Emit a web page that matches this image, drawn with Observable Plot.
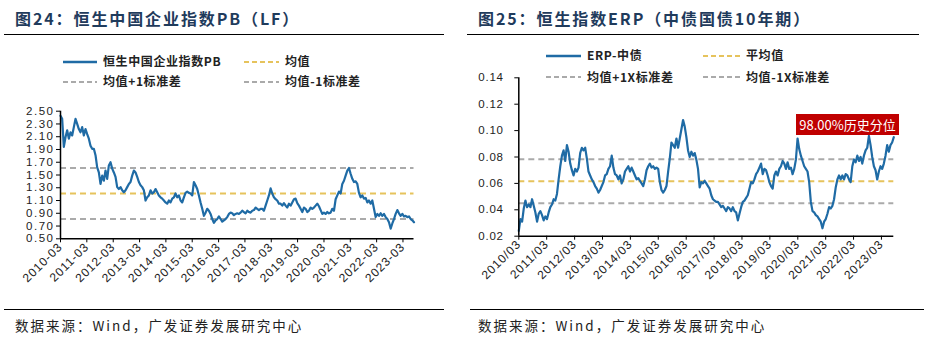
<!DOCTYPE html>
<html><head><meta charset="utf-8">
<script src="https://cdn.jsdelivr.net/npm/d3@7"></script>
<script src="https://cdn.jsdelivr.net/npm/@observablehq/plot@0.6"></script>
<style>
body{margin:0;background:#fff;width:927px;height:347px;position:relative;overflow:hidden;font-family:"Liberation Sans",Arial,sans-serif}
.abs{position:absolute}
.title{font-family:"Noto Sans CJK SC",sans-serif;font-weight:700;font-size:16px;color:#1f3b5c;letter-spacing:1.9px;white-space:nowrap;line-height:20px}
.hr{height:1.5px;background:#000}
.leg{font-family:"Noto Sans CJK SC",sans-serif;font-weight:700;font-size:12px;color:#222;white-space:nowrap;line-height:14px;letter-spacing:0.6px}
.foot{font-family:"Noto Sans CJK SC",sans-serif;font-size:13.5px;color:#222;white-space:nowrap;letter-spacing:2px;line-height:16px}
.anno{background:#c00000;color:#fff;font-family:"Noto Sans CJK SC",sans-serif;font-size:13px;text-align:center;line-height:21px;white-space:nowrap}
#pb g[aria-label="y-axis tick label"] text{letter-spacing:1.5px}
#erp g[aria-label="y-axis tick label"] text{letter-spacing:0.8px}
g[aria-label="x-axis tick label"] text{letter-spacing:0.9px}
</style></head>
<body>
<script>
// ---------- DATA ----------
const pbTitle = "图24：恒生中国企业指数PB（LF）";
const erpTitle = "图25：恒生指数ERP（中债国债10年期）";
const sourceText = "数据来源：Wind，广发证券发展研究中心";
const annotationText = "98.00%历史分位";

const pbSeriesName = "恒生中国企业指数PB";
const pbBandNames = ["均值", "均值+1标准差", "均值-1标准差"];
const pbBandValues = [1.21, 1.61, 0.81];

const erpSeriesName = "ERP-中债";
const erpBandNames = ["平均值", "均值+1X标准差", "均值-1X标准差"];
const erpBandValues = [0.0617, 0.0783, 0.045];

const tickYears = [2010,2011,2012,2013,2014,2015,2016,2017,2018,2019,2020,2021,2022,2023];
const pbYTicks = [0.50,0.70,0.90,1.10,1.30,1.50,1.70,1.90,2.10,2.30,2.50];
const erpYTicks = [0.02,0.04,0.06,0.08,0.10,0.12,0.14];

const pbStart = "2010-03-01", pbEnd = "2023-08-01";
const pbValues = [2.43,2.38,1.94,2.09,2.20,2.07,2.17,2.12,2.25,2.38,2.30,2.22,2.17,2.25,2.12,2.22,2.14,2.07,1.96,1.91,1.91,1.81,1.62,1.54,1.36,1.49,1.41,1.57,1.44,1.65,1.70,1.60,1.54,1.47,1.31,1.28,1.31,1.26,1.23,1.26,1.31,1.36,1.39,1.49,1.57,1.54,1.47,1.39,1.34,1.31,1.26,1.10,1.15,1.18,1.26,1.21,1.23,1.28,1.23,1.18,1.15,1.13,1.10,1.07,1.05,1.10,1.07,1.13,1.15,1.21,1.15,1.18,1.10,1.07,1.15,1.22,1.24,1.22,1.21,1.18,1.39,1.34,1.28,1.18,1.07,0.97,0.86,0.91,0.97,0.94,0.89,0.81,0.75,0.79,0.81,0.85,0.81,0.77,0.79,0.81,0.84,0.89,0.91,0.90,0.87,0.89,0.90,0.89,0.91,0.94,0.92,0.90,0.94,0.92,0.91,0.94,0.95,0.99,0.97,0.95,0.97,0.97,0.94,1.02,1.10,1.18,1.29,1.21,1.15,1.12,1.10,1.05,1.05,1.02,1.06,1.02,0.99,1.05,1.02,1.07,1.12,1.13,1.06,1.02,0.97,0.92,0.99,0.97,0.92,0.94,0.99,0.97,0.99,1.02,1.05,1.01,0.95,0.89,0.91,0.89,0.92,0.90,0.91,0.97,0.94,1.12,1.18,1.24,1.21,1.36,1.41,1.49,1.57,1.61,1.52,1.44,1.39,1.40,1.36,1.22,1.15,1.18,1.13,1.14,1.07,1.10,1.05,1.10,0.97,0.84,0.89,0.86,0.90,0.86,0.89,0.84,0.81,0.76,0.66,0.74,0.81,0.89,0.95,0.90,0.86,0.89,0.85,0.86,0.84,0.85,0.81,0.79,0.76];

const erpStart = "2010-03-01", erpEnd = "2023-08-10";
const erpValues = [0.024,0.033,0.031,0.041,0.047,0.042,0.044,0.042,0.048,0.043,0.038,0.031,0.037,0.039,0.036,0.032,0.035,0.033,0.038,0.042,0.044,0.048,0.047,0.052,0.063,0.073,0.081,0.085,0.077,0.089,0.084,0.075,0.070,0.066,0.071,0.069,0.072,0.083,0.087,0.085,0.087,0.079,0.069,0.066,0.063,0.061,0.058,0.056,0.053,0.055,0.058,0.061,0.066,0.067,0.071,0.073,0.081,0.072,0.067,0.066,0.063,0.066,0.060,0.063,0.069,0.071,0.073,0.069,0.072,0.069,0.066,0.063,0.064,0.062,0.060,0.058,0.063,0.070,0.073,0.075,0.072,0.073,0.071,0.072,0.071,0.061,0.055,0.053,0.055,0.058,0.069,0.079,0.091,0.089,0.087,0.094,0.087,0.094,0.101,0.108,0.103,0.095,0.085,0.080,0.084,0.081,0.083,0.078,0.071,0.057,0.061,0.060,
0.062,0.060,0.058,0.056,0.051,0.048,0.047,0.046,0.046,0.044,0.042,0.043,0.041,0.039,0.042,0.041,0.039,0.042,0.039,0.038,0.032,0.037,0.042,0.046,0.047,0.049,0.051,0.056,0.061,0.060,0.063,0.067,0.069,0.072,0.075,0.067,0.071,0.070,0.066,0.061,0.058,0.056,0.066,0.069,0.066,0.071,0.073,0.077,0.075,0.071,0.076,0.071,0.072,0.067,0.071,0.078,0.094,0.086,0.081,0.077,0.073,0.071,0.069,0.061,0.046,0.039,0.038,0.036,0.035,0.033,0.031,0.026,0.031,0.033,0.037,0.042,0.041,0.043,0.048,0.057,0.063,0.066,0.063,0.066,0.063,0.067,0.066,0.063,0.061,0.073,0.078,0.076,0.081,0.077,0.080,0.075,0.081,0.085,0.087,0.096,0.089,0.080,0.073,0.070,0.063,0.069,0.073,0.071,0.075,0.081,0.089,0.084,0.089,0.091,0.095];

// ---------- STYLE ----------
const BLUE = "#1f6ba5", GOLD = "#e6c35c", GRAY = "#aaaaaa";
const bandColors = [GOLD, GRAY, GRAY];

function series(values, s, e) {
  const t0 = new Date(s + "T00:00:00Z"), t1 = new Date(e + "T00:00:00Z");
  const step = (t1 - t0) / (values.length - 1);
  return values.map((v, i) => ({date: new Date(+t0 + i * step), value: v}));
}
const marchTicks = tickYears.map(y => new Date(Date.UTC(y, 2, 1)));

function add(html, cls, style) {
  const d = document.createElement("div");
  d.className = "abs " + cls;
  Object.assign(d.style, style);
  d.textContent = html;
  document.body.appendChild(d);
  return d;
}
function swatch(color, dashed, x, y, w) {
  const ns = "http://www.w3.org/2000/svg";
  const s = document.createElementNS(ns, "svg");
  s.setAttribute("width", w); s.setAttribute("height", 6);
  s.style.position = "absolute"; s.style.left = x + "px"; s.style.top = (y - 3) + "px";
  const l = document.createElementNS(ns, "line");
  l.setAttribute("x1", 0); l.setAttribute("x2", w); l.setAttribute("y1", 3); l.setAttribute("y2", 3);
  l.setAttribute("stroke", color); l.setAttribute("stroke-width", dashed ? 2 : 2.5);
  if (dashed) l.setAttribute("stroke-dasharray", "5,3");
  s.appendChild(l);
  document.body.appendChild(s);
}
function legend(names, colors, dashed, x0, x1, y0, y1, wa, wb) {
  const cells = [[x0, y0, wa], [x1, y0, wb], [x0, y1, wa], [x1, y1, wb]];
  names.forEach((n, i) => {
    const [x, y, w] = cells[i];
    swatch(colors[i], dashed[i], x, y, w);
    add(n, "leg", {left: (x + w + 6) + "px", top: (y - 7.5) + "px"});
  });
}

// ---------- LEFT PANEL ----------
add(pbTitle, "title", {left: "15px", top: "8px"});
add("", "hr", {left: "4px", top: "33.5px", width: "440px"});
legend([pbSeriesName, ...pbBandNames], [BLUE, ...bandColors], [false, true, true, true],
  63, 244, 61.5, 81.5, 34, 35);

const pbData = series(pbValues, pbStart, pbEnd);
const pbBands = pbBandNames.map((n, i) => ({name: n, value: pbBandValues[i], color: bandColors[i]}));
const pbPlot = Plot.plot({
  width: 450, height: 200,
  marginLeft: 60, marginRight: 36.5, marginTop: 10.7, marginBottom: 61.7,
  style: {fontFamily: "'Liberation Sans', Arial, sans-serif", fontSize: "11.5px", color: "#222", background: "transparent", overflow: "visible"},
  x: {type: "utc", domain: [new Date(Date.UTC(2010,2,1)), pbData[pbData.length-1].date], label: null},
  y: {domain: [0.5, 2.5], label: null},
  marks: [
    Plot.ruleY(pbBands, {y: "value", stroke: "color", strokeWidth: 2, strokeDasharray: "6,4"}),
    Plot.line(pbData, {x: "date", y: "value", stroke: BLUE, strokeWidth: 2.2}),
    Plot.axisY({ticks: pbYTicks, tickFormat: d => d.toFixed(2), tickSize: 4, tickPadding: 2, label: null, stroke: "#000"}),
    Plot.axisX({ticks: marchTicks, tickFormat: d => `${d.getUTCFullYear()}-03`, tickRotate: -45, tickSize: 4, tickPadding: 2, fontSize: 12, label: null, stroke: "#000"}),
    Plot.ruleX([pbData[0].date], {stroke: "#000", strokeWidth: 1.5}),
    Plot.ruleY([0.5], {stroke: "#000", strokeWidth: 1.5})
  ]
});
const w1 = document.createElement("div");
w1.id = "pb"; w1.className = "abs"; w1.style.left = "0px"; w1.style.top = "100px";
w1.appendChild(pbPlot); document.body.appendChild(w1);

// ---------- RIGHT PANEL ----------
add(erpTitle, "title", {left: "478px", top: "8px"});
add("", "hr", {left: "467px", top: "33.5px", width: "452px"});
legend([erpSeriesName, ...erpBandNames], [BLUE, ...bandColors], [false, true, true, true],
  546, 703, 55.5, 77, 35, 37);

const erpData = series(erpValues, erpStart, erpEnd);
const erpBands = erpBandNames.map((n, i) => ({name: n, value: erpBandValues[i], color: bandColors[i]}));
const erpPlot = Plot.plot({
  width: 467, height: 230,
  marginLeft: 58.3, marginRight: 33.7, marginTop: 12.3, marginBottom: 59.3,
  style: {fontFamily: "'Liberation Sans', Arial, sans-serif", fontSize: "11.5px", color: "#222", background: "transparent", overflow: "visible"},
  x: {type: "utc", domain: [new Date(Date.UTC(2010,2,1)), erpData[erpData.length-1].date], label: null},
  y: {domain: [0.02, 0.14], label: null},
  marks: [
    Plot.ruleY(erpBands, {y: "value", stroke: "color", strokeWidth: 2, strokeDasharray: "6,4"}),
    Plot.line(erpData, {x: "date", y: "value", stroke: BLUE, strokeWidth: 2.2}),
    Plot.axisY({ticks: erpYTicks, tickFormat: d => d.toFixed(2), tickSize: 4, tickPadding: 11, label: null, stroke: "#000"}),
    Plot.axisX({ticks: marchTicks, tickFormat: d => `${d.getUTCFullYear()}/03`, tickRotate: -45, tickSize: 4, tickPadding: 2, fontSize: 12, label: null, stroke: "#000"}),
    Plot.ruleX([erpData[0].date], {stroke: "#000", strokeWidth: 1.5}),
    Plot.ruleY([0.02], {stroke: "#000", strokeWidth: 1.5})
  ]
});
const w2 = document.createElement("div");
w2.id = "erp"; w2.className = "abs"; w2.style.left = "460px"; w2.style.top = "65px";
w2.appendChild(erpPlot); document.body.appendChild(w2);

add(annotationText, "anno", {left: "796px", top: "114px", width: "103px", height: "21px"});

// ---------- FOOTER ----------
add("", "hr", {left: "4px", top: "308.5px", width: "440px"});
add("", "hr", {left: "470px", top: "308.5px", width: "454px"});
add(sourceText, "foot", {left: "15px", top: "317px"});
add(sourceText, "foot", {left: "478px", top: "317px"});
</script>
</body></html>
